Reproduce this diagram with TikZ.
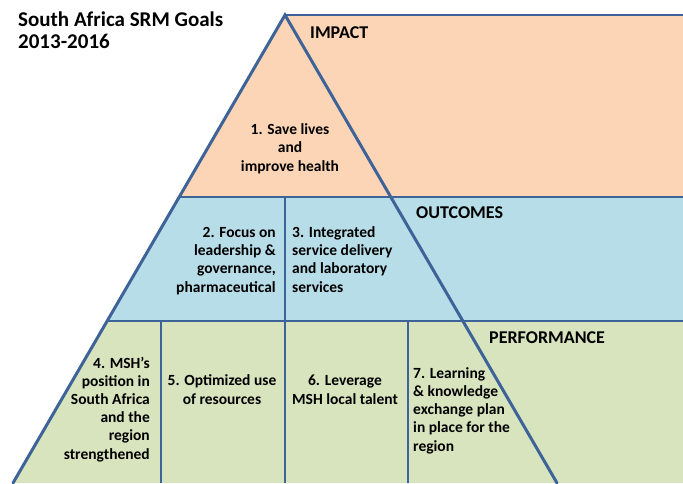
\documentclass[tikz,border=0pt]{standalone}
\usepackage{fontspec}
\setmainfont{Carlito}
\definecolor{peach}{HTML}{FBD5B5}
\definecolor{sky}{HTML}{B7DDE8}
\definecolor{sage}{HTML}{D7E4BD}
\definecolor{edge}{HTML}{3D6399}
\tikzset{
  band/.style={draw=none},
  hline/.style={draw=edge, line width=2pt},
  vline/.style={draw=edge, line width=1.4pt},
  sideline/.style={draw=edge, line width=3pt, line cap=round},
  lbl/.style={inner sep=0pt, font=\bfseries\fontsize{18}{21}\selectfont},
  body/.style={inner sep=0pt, font=\bfseries\fontsize{15.5}{18.2}\selectfont},
}
\begin{document}
\begin{tikzpicture}[x=1pt,y=-1pt]
\useasboundingbox (0,0) rectangle (683,483);
% key points
\coordinate (apex) at (285,15);
\coordinate (tr) at (683,15);
\coordinate (l1) at (179.2,197);
\coordinate (r1) at (390.8,197);
\coordinate (e1) at (683,197);
\coordinate (l2) at (107.2,321);
\coordinate (r2) at (462.8,321);
\coordinate (e2) at (683,321);
\coordinate (lb) at (13,483);
\coordinate (rb) at (557,483);
\coordinate (eb) at (683,483);
\coordinate (m1) at (285,197);
\coordinate (m2) at (285,321);
\coordinate (a2) at (161,321);
\coordinate (c2) at (408,321);
\coordinate (mb) at (285,483);
\coordinate (ab) at (161,483);
\coordinate (cb) at (408,483);
% bands
\fill[peach] (apex) -- (tr) -- (e1) -- (l1) -- cycle;
\fill[sky] (l1) -- (e1) -- (e2) -- (l2) -- cycle;
\fill[sage] (l2) -- (e2) -- (eb) -- (lb) -- cycle;
% lines
\draw[draw=edge, line width=1.5pt] (apex) -- (tr);
\draw[hline] (l1) -- (e1);
\draw[hline] (l2) -- (e2);
\draw[vline] (m1) -- (m2);
\draw[vline] (a2) -- (ab);
\draw[vline] (m2) -- (mb);
\draw[vline] (c2) -- (cb);
\draw[sideline] (lb) -- (apex) -- (rb);
% texts (base anchor = last line baseline)
\node[inner sep=0pt, anchor=base west, align=left, font=\bfseries\fontsize{21}{22}\selectfont] (title) at (18,48) {South Africa SRM Goals\\2013-2016};
\node[lbl, anchor=base west] (impact) at (310,38) {IMPACT};
\node[lbl, anchor=base west] (outcomes) at (416,218) {OUTCOMES};
\node[lbl, anchor=base west] (performance) at (489,343) {PERFORMANCE};
\node[body, anchor=base, align=center] (g1) at (290,171) {1. Save lives\\and\\improve health};
\node[body, anchor=base east, align=right] (g2) at (276,292) {2. Focus on\\leadership \&\\governance,\\pharmaceutical};
\node[body, anchor=base west, align=left] (g3) at (292,292) {3. Integrated\\service delivery\\and laboratory\\services};
\node[body, anchor=base east, align=right] (g4) at (150,459) {4. MSH’s\\position in\\South Africa\\and the\\region\\strengthened};
\node[body, anchor=base, align=center] (g5) at (222,404) {5. Optimized use\\of resources};
\node[body, anchor=base, align=center] (g6) at (345,404) {6. Leverage\\MSH local talent};
\node[body, anchor=base west, align=left] (g7) at (413,451) {7. Learning\\\& knowledge\\exchange plan\\in place for the\\region};
\end{tikzpicture}
\end{document}
